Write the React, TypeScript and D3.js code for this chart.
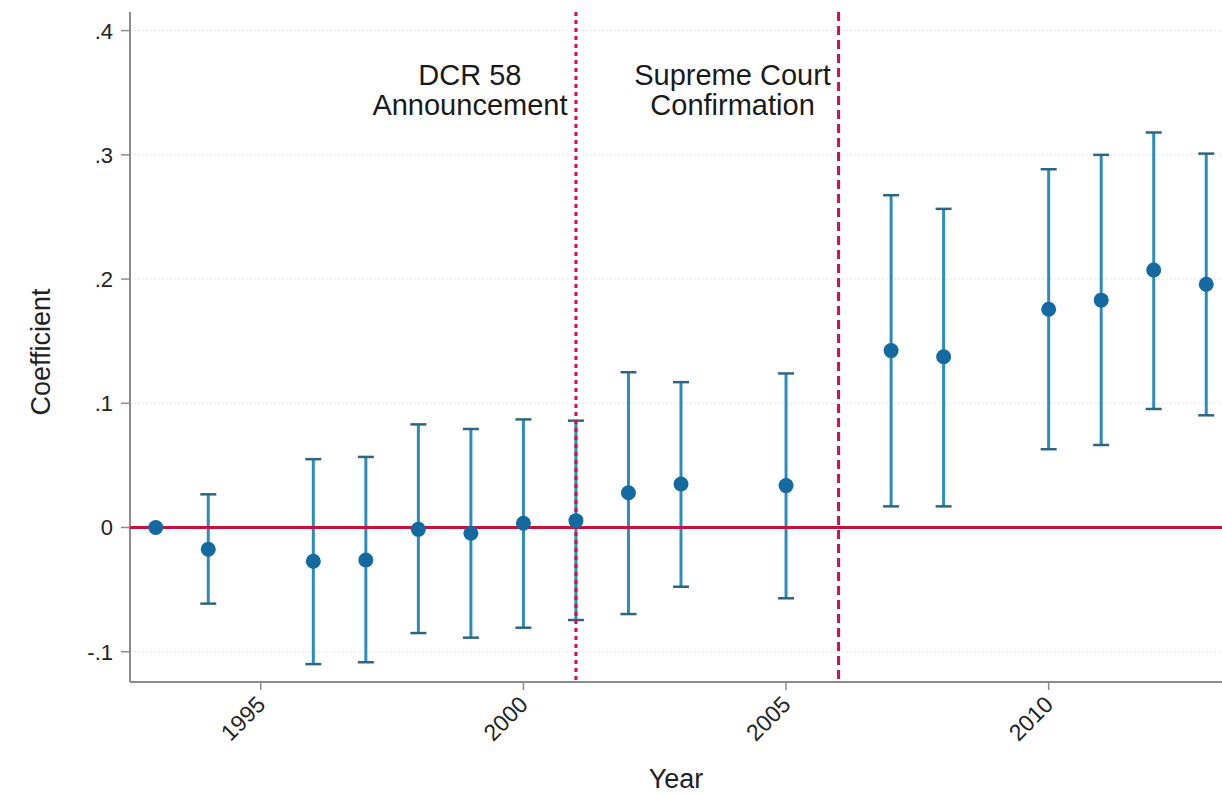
import React from "react";
import * as d3 from "d3";

const years = [1993, 1994, 1996, 1997, 1998, 1999, 2000, 2001, 2002, 2003, 2005, 2007, 2008, 2010, 2011, 2012, 2013];
const coef = [0, -0.0175, -0.0272, -0.0262, -0.0015, -0.0047, 0.0034, 0.0055, 0.028, 0.035, 0.0337, 0.1424, 0.1375, 0.1757, 0.183, 0.2073, 0.1958];
const upper = [0, 0.0267, 0.055, 0.0568, 0.083, 0.0793, 0.087, 0.086, 0.125, 0.117, 0.124, 0.2675, 0.2565, 0.2884, 0.3, 0.318, 0.301];
const lower = [0, -0.0613, -0.11, -0.1085, -0.085, -0.0887, -0.0807, -0.0745, -0.0697, -0.0477, -0.057, 0.017, 0.017, 0.063, 0.0664, 0.0954, 0.0903];

const yTicks = [-0.1, 0, 0.1, 0.2, 0.3, 0.4];
const xTicks = [1995, 2000, 2005, 2010];

const events = [
  { year: 2001, lines: ["DCR 58", "Announcement"], dash: "4,4" },
  { year: 2006, lines: ["Supreme Court", "Confirmation"], dash: "9,5" },
];

const W = 1222;
const H = 795;
const left = 130;
const right = 1222;
const top = 12;
const bottom = 682;

const x = d3.scaleLinear().domain([1992.51, 2013.3]).range([left, right]);
const y = d3.scaleLinear().domain([-0.1244, 0.415]).range([bottom, top]);

const fmtY = (v: number) => {
  if (Math.abs(v) < 1e-9) return "0";
  const s = d3.format(".1f")(v);
  return s.replace("0.", ".").replace("−", "-");
};

const FONT = "'Liberation Sans', Arial, Helvetica, sans-serif";

export default function App() {
  const capW = 8;
  return (
    <svg
      width={W}
      height={H}
      style={{ position: "absolute", left: 0, top: 0, background: "#fff" }}
      fontFamily={FONT}
    >
      <rect x={0} y={0} width={W} height={H} fill="#fff" />
      {/* grid */}
      {yTicks.map((t) => (
        <line
          key={"g" + t}
          x1={left}
          x2={right}
          y1={y(t)}
          y2={y(t)}
          stroke="#e3e3e3"
          strokeWidth={1}
          strokeDasharray="2,2"
        />
      ))}
      {/* axes */}
      <line x1={left} x2={left} y1={top} y2={bottom} stroke="#8c8c8c" strokeWidth={2} />
      <line x1={left} x2={right} y1={bottom} y2={bottom} stroke="#8c8c8c" strokeWidth={2} />
      {yTicks.map((t) => (
        <g key={"yt" + t}>
          <line x1={left - 9} x2={left} y1={y(t)} y2={y(t)} stroke="#8c8c8c" strokeWidth={1.5} />
          <text
            x={left - 17}
            y={y(t)}
            dy="0.36em"
            textAnchor="end"
            fontSize={22}
            fill="#222"
          >
            {fmtY(t)}
          </text>
        </g>
      ))}
      {xTicks.map((t) => (
        <g key={"xt" + t}>
          <line x1={x(t)} x2={x(t)} y1={bottom} y2={bottom + 8} stroke="#8c8c8c" strokeWidth={1.5} />
          <text
            transform={`translate(${x(t) + 6},${bottom + 24}) rotate(-45)`}
            textAnchor="end"
            fontSize={23}
            fill="#222"
          >
            {t}
          </text>
        </g>
      ))}
      {/* axis titles */}
      <text x={(left + right) / 2} y={788} textAnchor="middle" fontSize={27} fill="#222">
        Year
      </text>
      <text
        transform={`translate(50,${(top + bottom) / 2 + 5}) rotate(-90)`}
        textAnchor="middle"
        fontSize={27}
        fill="#222"
      >
        Coefficient
      </text>
      {/* error bars */}
      {years.map((yr, i) =>
        upper[i] === lower[i] ? null : (
          <g key={"e" + yr}>
            <line
              x1={x(yr)}
              x2={x(yr)}
              y1={y(upper[i])}
              y2={y(lower[i])}
              stroke="#2b8cbf"
              strokeWidth={3}
            />
            <line
              x1={x(yr) - capW}
              x2={x(yr) + capW}
              y1={y(upper[i])}
              y2={y(upper[i])}
              stroke="#2f6580"
              strokeWidth={2.5}
            />
            <line
              x1={x(yr) - capW}
              x2={x(yr) + capW}
              y1={y(lower[i])}
              y2={y(lower[i])}
              stroke="#2f6580"
              strokeWidth={2.5}
            />
          </g>
        )
      )}
      {/* zero line */}
      <line x1={left} x2={right} y1={y(0)} y2={y(0)} stroke="#c8103c" strokeWidth={3} />
      {/* event lines */}
      {events.map((e) => (
        <g key={"ev" + e.year}>
          <line
            x1={x(e.year)}
            x2={x(e.year)}
            y1={top}
            y2={bottom}
            stroke="#c8134e"
            strokeWidth={3}
            strokeDasharray={e.dash}
          />
          {e.lines.map((l, j) => (
            <text
              key={l}
              x={x(e.year) - 106}
              y={85 + j * 30}
              textAnchor="middle"
              fontSize={29}
              fill="#1a1a1a"
            >
              {l}
            </text>
          ))}
        </g>
      ))}
      {/* points */}
      {years.map((yr, i) => (
        <circle key={"p" + yr} cx={x(yr)} cy={y(coef[i])} r={7.5} fill="#1569a1" />
      ))}
    </svg>
  );
}
